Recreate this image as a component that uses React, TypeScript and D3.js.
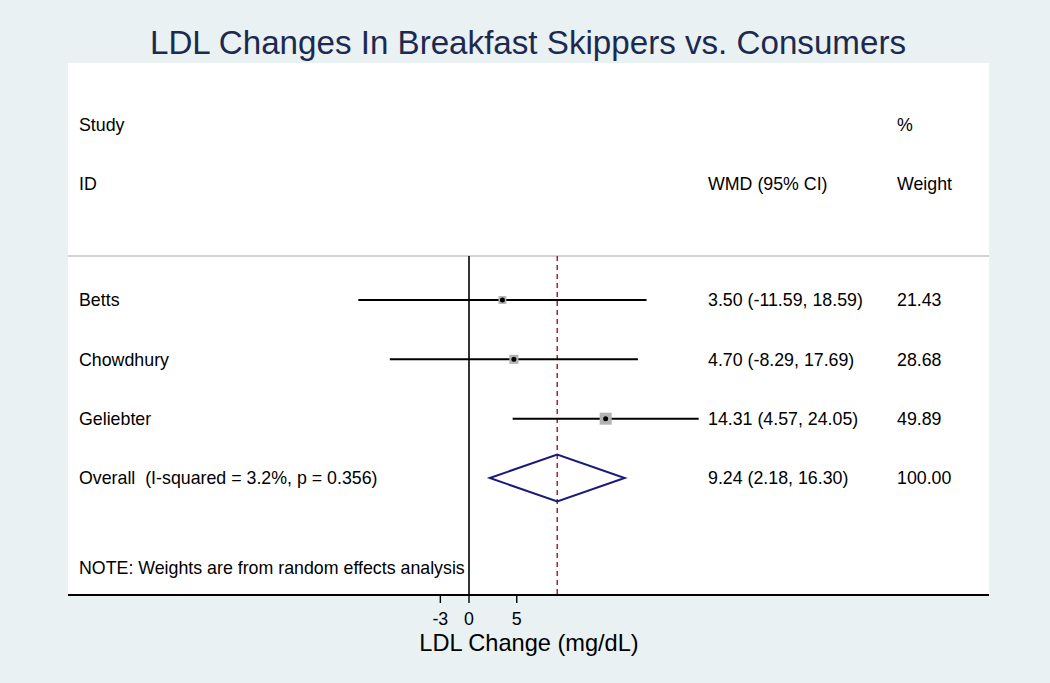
import React from "react";
import * as d3 from "d3";

const studies = ["Betts", "Chowdhury", "Geliebter"];
const wmd = [3.5, 4.7, 14.31];
const lower = [-11.59, -8.29, 4.57];
const upper = [18.59, 17.69, 24.05];
const weights = [21.43, 28.68, 49.89];
const wmdLabels = ["3.50 (-11.59, 18.59)", "4.70 (-8.29, 17.69)", "14.31 (4.57, 24.05)"];
const weightLabels = ["21.43", "28.68", "49.89"];

const overallLabel = "Overall  (I-squared = 3.2%, p = 0.356)";
const overallEst = 9.24;
const overallLower = 2.18;
const overallUpper = 16.3;
const overallWmdLabel = "9.24 (2.18, 16.30)";
const overallWeightLabel = "100.00";

const xTicks = [-3, 0, 5];
const rowKeys = [...studies, "Overall"];

const W = 1050;
const H = 683;
const FONT = "'Liberation Sans', Arial, Helvetica, sans-serif";

export default function App() {
  const panel = { left: 68, right: 989, top: 63, bottom: 596 };
  const x = d3.scaleLinear().domain([-3, 5]).range([440.35, 516.75]);
  const y = d3.scalePoint<string>().domain(rowKeys).range([300, 478]);
  const sepY = 256;
  const axisY = 595;
  const textLeft = 79;
  const wmdX = 708;
  const wtX = 897;
  const fs = 17.8;
  const boxK = 1.7;
  const dy = 6.3;

  const oy = y("Overall")!;
  const halfH = 23.5;
  const diamond = [
    [x(overallLower), oy],
    [x(overallEst), oy - halfH],
    [x(overallUpper), oy],
    [x(overallEst), oy + halfH],
  ]
    .map((p) => p.join(","))
    .join(" ");

  return (
    <svg width={W} height={H} style={{ display: "block", position: "absolute", left: 0, top: 0 }}>
      <rect x={0} y={0} width={W} height={H} fill="#e9f1f3" />
      <rect
        x={panel.left}
        y={panel.top}
        width={panel.right - panel.left}
        height={panel.bottom - panel.top}
        fill="#ffffff"
      />
      <text
        x={528}
        y={54}
        textAnchor="middle"
        fontFamily={FONT}
        fontSize={33}
        fill="#1c2a50"
        textLength={756}
        lengthAdjust="spacingAndGlyphs"
      >
        LDL Changes In Breakfast Skippers vs. Consumers
      </text>

      {/* headers */}
      <g fontFamily={FONT} fontSize={fs} fill="#000">
        <text x={textLeft} y={125 + dy}>Study</text>
        <text x={textLeft} y={184 + dy}>ID</text>
        <text x={wmdX} y={184 + dy}>WMD (95% CI)</text>
        <text x={wtX} y={125 + dy}>%</text>
        <text x={wtX} y={184 + dy}>Weight</text>
      </g>

      <line x1={panel.left} x2={panel.right} y1={sepY} y2={sepY} stroke="#c4c4c4" strokeWidth={1.6} />

      {/* null line */}
      <line x1={x(0)} x2={x(0)} y1={sepY} y2={axisY} stroke="#000" strokeWidth={1.6} />
      {/* overall dashed line */}
      <line
        x1={x(overallEst)}
        x2={x(overallEst)}
        y1={sepY}
        y2={axisY}
        stroke="#a3262f"
        strokeWidth={1.5}
        strokeDasharray="5,4"
      />

      {studies.map((s, i) => {
        const cy = y(s)!;
        const side = boxK * Math.sqrt(weights[i]);
        return (
          <g key={s}>
            <line x1={x(lower[i])} x2={x(upper[i])} y1={cy} y2={cy} stroke="#000" strokeWidth={2} />
            <rect
              x={x(wmd[i]) - side / 2}
              y={cy - side / 2}
              width={side}
              height={side}
              fill="#b3b3b3"
            />
            <circle cx={x(wmd[i])} cy={cy} r={2.5} fill="#000" />
            <text x={textLeft} y={cy + dy} fontFamily={FONT} fontSize={fs}>{s}</text>
            <text x={wmdX} y={cy + dy} fontFamily={FONT} fontSize={fs}>{wmdLabels[i]}</text>
            <text x={wtX} y={cy + dy} fontFamily={FONT} fontSize={fs}>{weightLabels[i]}</text>
          </g>
        );
      })}

      <polygon points={diamond} fill="none" stroke="#1a1a7a" strokeWidth={2} />
      <text x={textLeft} y={oy + dy} fontFamily={FONT} fontSize={fs} style={{ whiteSpace: "pre" }}>
        {overallLabel}
      </text>
      <text x={wmdX} y={oy + dy} fontFamily={FONT} fontSize={fs}>{overallWmdLabel}</text>
      <text x={wtX} y={oy + dy} fontFamily={FONT} fontSize={fs}>{overallWeightLabel}</text>

      <text x={textLeft} y={568 + dy} fontFamily={FONT} fontSize={fs}>
        NOTE: Weights are from random effects analysis
      </text>

      {/* axis */}
      <line x1={panel.left} x2={panel.right} y1={axisY} y2={axisY} stroke="#000" strokeWidth={1.8} />
      {xTicks.map((t) => (
        <g key={t}>
          <line x1={x(t)} x2={x(t)} y1={axisY} y2={axisY + 8} stroke="#000" strokeWidth={1.4} />
          <text x={x(t)} y={625} textAnchor="middle" fontFamily={FONT} fontSize={fs}>
            {t}
          </text>
        </g>
      ))}
      <text x={529} y={651} textAnchor="middle" fontFamily={FONT} fontSize={23.6}>
        LDL Change (mg/dL)
      </text>
    </svg>
  );
}
